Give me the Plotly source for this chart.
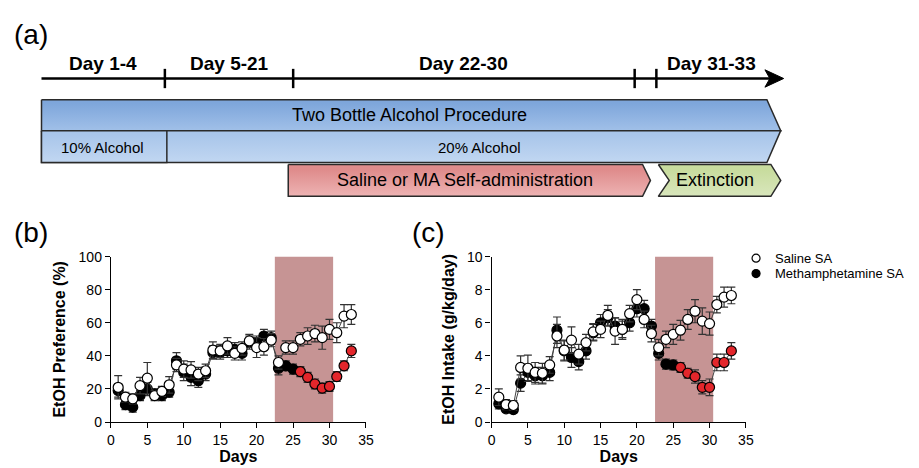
import plotly.graph_objects as go

# ---- data ----
days = list(range(1, 34))

pref_saline = [21, 15, 14, 22, 26.5, 16, 18.5, 22.5, 34.5, 32, 31.5, 29, 31, 43.5, 43, 46, 41.5,
               44.5, 49, 45, 45.5, 49.5, 36, 45, 45, 50, 52, 53.5, 51, 56, 54, 64, 65]
pref_saline_err = [7, 3, 3, 5, 9.5, 3, 3, 5, 4, 5, 5, 4, 4, 5, 4, 5, 4,
                   4, 4, 6, 5, 4, 4, 4, 4, 4, 5, 5, 7, 6, 6, 7, 6]
pref_meth = [19, 10.5, 9, 16, 20, 17, 16, 18, 37, 30, 27, 25, 29, 42, 42, 43, 44,
             41.5, 48, 48, 52, 51, 32.5, 34, 32, 30.5, 27, 23, 20.5, 21.5, 27.5, 34, 43]
pref_meth_err = [4, 3, 3, 3, 4, 3, 3, 3, 5, 5, 5, 4, 4, 4, 4, 4, 4,
                 4, 4, 4, 4, 4, 4, 3, 3, 3, 3, 3, 3, 3, 3, 3, 4]

intake_saline = [1.5, 1.05, 1.0, 3.3, 3.25, 3.0, 2.95, 3.45, 5.2, 4.35, 4.95, 4.1, 4.8, 5.45, 5.6, 6.45, 5.5,
                 5.6, 6.55, 7.4, 6.2, 5.35, 4.5, 5.0, 5.3, 5.55, 6.2, 6.7, 6.1, 5.95, 7.1, 7.55, 7.65]
intake_saline_err = [0.5, 0.3, 0.3, 0.7, 0.8, 0.6, 0.6, 0.5, 0.7, 0.6, 0.8, 0.6, 0.5, 0.5, 0.5, 0.6, 0.8,
                     0.6, 0.5, 0.6, 0.5, 0.5, 0.5, 0.5, 0.6, 0.6, 0.6, 0.7, 0.8, 0.7, 0.5, 0.6, 0.5]
intake_meth = [1.1, 0.8, 0.75, 2.35, 3.0, 2.8, 2.8, 3.0, 5.55, 4.3, 3.9, 3.65, 4.3, 5.4, 6.0, 6.3, 5.8,
               5.6, 6.0, 6.85, 6.85, 5.8, 4.15, 3.5, 3.45, 3.3, 2.95, 2.75, 2.1, 2.1, 3.6, 3.6, 4.3]
intake_meth_err = [0.3, 0.2, 0.2, 0.5, 0.5, 0.5, 0.5, 0.5, 0.8, 0.6, 0.6, 0.5, 0.5, 0.5, 0.5, 0.5, 0.5,
                   0.5, 0.5, 0.5, 0.5, 0.4, 0.4, 0.3, 0.3, 0.3, 0.3, 0.4, 0.4, 0.5, 0.5, 0.5, 0.5]

sa_window = [22.5, 30.5]
first_red_day = 26

FONT = "Liberation Sans, Arial, sans-serif"
W, H = 919, 468

fig = go.Figure()

meth_colors = ["#e3262b" if d >= first_red_day else "black" for d in days]


def add_panel(xa, ya, saline, saline_err, meth, meth_err):
    for vals, errs, fill in [(meth, meth_err, meth_colors), (saline, saline_err, "white")]:
        fig.add_trace(go.Scatter(
            x=days, y=vals, mode="lines+markers", xaxis=xa, yaxis=ya, showlegend=False,
            line=dict(color="#444", width=1),
            marker=dict(size=10, color=fill, line=dict(color="black", width=1.2)),
            error_y=dict(type="data", array=errs, color="#333", thickness=1.2, width=4),
            cliponaxis=False))


add_panel("x", "y", pref_saline, pref_saline_err, pref_meth, pref_meth_err)
add_panel("x2", "y2", intake_saline, intake_saline_err, intake_meth, intake_meth_err)

# ---- panel (a): schematic drawn on a pixel-sized overlay axis ----
def poly(pts, top, bottom, outline="#2a2a2a"):
    xs = [p[0] for p in pts] + [pts[0][0]]
    ys = [p[1] for p in pts] + [pts[0][1]]
    fig.add_trace(go.Scatter(
        x=xs, y=ys, xaxis="x3", yaxis="y3", mode="lines", fill="toself", showlegend=False,
        hoverinfo="skip", line=dict(color=outline, width=1.5),
        fillgradient=dict(type="vertical", start=min(ys), stop=max(ys),
                          colorscale=[[0, top], [1, bottom]])))


poly([(38, 95), (773, 95), (787, 127), (38, 127)], "#7ea6db", "#a6c4ea")
poly([(38, 127), (787, 127), (773, 160), (38, 160)], "#a9c6ea", "#c6daf3")
poly([(38, 127), (165, 127), (165, 160), (38, 160)], "#a9c6ea", "#c6daf3")
poly([(288, 162), (647, 162), (655, 178.5), (647, 195), (288, 195)], "#df8c8c", "#f1bdbd")
poly([(663, 162), (777, 162), (787, 178.5), (777, 195), (663, 195), (674, 178.5)], "#c8dc9e", "#dde9c4")

shapes = [
    dict(type="line", xref="x3", yref="y3", x0=38, x1=778, y0=73, y1=73,
         line=dict(color="black", width=2.5)),
    dict(type="path", xref="x3", yref="y3", path="M 771,64 L 790,73 L 771,82 L 776,73 Z",
         fillcolor="black", line=dict(color="black", width=1)),
]
for tx in [163, 293, 639, 661]:
    shapes.append(dict(type="line", xref="x3", yref="y3", x0=tx, x1=tx, y0=63, y1=83,
                       line=dict(color="black", width=2.5)))

# shaded self-administration window
for xa, ya, top in [("x", "y", 100), ("x2", "y2", 10)]:
    shapes.append(dict(type="rect", xref=xa, yref=ya, x0=sa_window[0], x1=sa_window[1],
                       y0=0, y1=top, fillcolor="#c69494", line=dict(width=0), layer="below"))

annotations = []


def label(x, y, text, size, bold=False, anchor="center"):
    if bold:
        text = "<b>" + text + "</b>"
    annotations.append(dict(x=x / W, y=1 - y / H, xref="paper", yref="paper", text=text,
                            showarrow=False, xanchor=anchor, yanchor="middle",
                            font=dict(family=FONT, size=size, color="black")))


label(8, 27, "(a)", 28, anchor="left")
label(8, 232, "(b)", 28, anchor="left")
label(411, 232, "(c)", 28, anchor="left")
label(100, 57, "Day 1-4", 19, bold=True)
label(228, 57, "Day 5-21", 19, bold=True)
label(466, 57, "Day 22-30", 19, bold=True)
label(717, 57, "Day 31-33", 19, bold=True)
label(411, 111, "Two Bottle Alcohol Procedure", 18)
label(100, 144, "10% Alcohol", 15)
label(482, 144, "20% Alcohol", 15)
label(467, 178, "Saline or MA Self-administration", 18)
label(720, 178, "Extinction", 18)

# legend
legend_names = ["Saline SA", "Methamphetamine SA"]
legend_fill = ["white", "black"]
legend_y = [259, 275]
fig.add_trace(go.Scatter(
    x=[762, 762], y=legend_y, xaxis="x3", yaxis="y3", mode="markers", showlegend=False,
    marker=dict(size=8, color=legend_fill, line=dict(color="black", width=1.2)), cliponaxis=False))
for name, ly in zip(legend_names, legend_y):
    label(779, ly, name, 13, anchor="left")

axis_common = dict(showline=True, linecolor="black", linewidth=1.3, ticks="outside", ticklen=5,
                   tickwidth=1.3, tickcolor="black", showgrid=False, zeroline=False,
                   tickfont=dict(family=FONT, size=14, color="black"))
xdays = dict(range=[0, 35], tick0=0, dtick=5, **axis_common,
             title=dict(text="<b>Days</b>", standoff=1, font=dict(family=FONT, size=16, color="black")))

fig.update_layout(
    width=W, height=H, margin=dict(l=0, r=0, t=0, b=0),
    plot_bgcolor="rgba(0,0,0,0)", paper_bgcolor="white", showlegend=False,
    xaxis=dict(domain=[108.3 / W, 366.7 / W], anchor="y", **xdays),
    yaxis=dict(domain=[0.084, 0.45], anchor="x", range=[0, 100], dtick=20, **axis_common,
               title=dict(text="<b>EtOH Preference (%)</b>", standoff=8,
                          font=dict(family=FONT, size=16, color="black"))),
    xaxis2=dict(domain=[494 / W, 751.7 / W], anchor="y2", **xdays),
    yaxis2=dict(domain=[0.084, 0.45], anchor="x2", range=[0, 10], dtick=2, **axis_common,
                title=dict(text="<b>EtOH Intake (g/kg/day)</b>", standoff=8,
                           font=dict(family=FONT, size=16, color="black"))),
    xaxis3=dict(domain=[0, 1], range=[0, W], visible=False, anchor="y3"),
    yaxis3=dict(domain=[0, 1], range=[H, 0], visible=False, anchor="x3"),
    shapes=shapes, annotations=annotations,
)

fig.write_html("out.html", config={"displayModeBar": False},
               post_script="document.body.style.margin = '0';")
